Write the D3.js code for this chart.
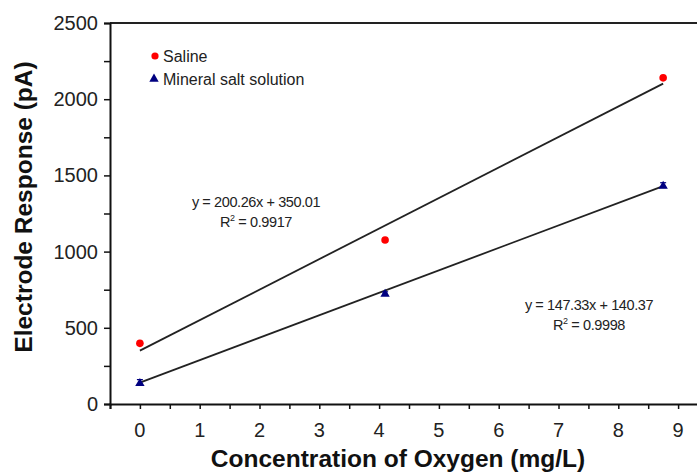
<!DOCTYPE html>
<html>
<head>
<meta charset="utf-8">
<script src="https://cdn.jsdelivr.net/npm/d3@7"></script>
<style>
  body { margin: 0; background: #fff; }
  text { font-family: "Liberation Sans", Arial, sans-serif; }
</style>
</head>
<body>
<div id="viz"></div>
<script>
// data
const oxygen = [0, 4.1, 8.75];
const saline = [398, 1076, 2140];
const mineral = [142, 728, 1436];
const mineralErr = [18, 8, 16];
const xTicks = [0, 1, 2, 3, 4, 5, 6, 7, 8, 9];
const yTicks = [0, 500, 1000, 1500, 2000, 2500];
const fits = [
  { name: "Saline", slope: 200.26, icpt: 350.01, eq: "y = 200.26x + 350.01", r2: "0.9917" },
  { name: "Mineral salt solution", slope: 147.33, icpt: 140.37, eq: "y = 147.33x + 140.37", r2: "0.9998" }
];

const width = 697;
const height = 474;

const svg = d3.select("#viz")
  .append("svg")
  .attr("width", width)
  .attr("height", height);

const x = d3.scaleLinear().domain([-0.5, 9.5]).range([110, 708]);
const y = d3.scaleLinear().domain([0, 2500]).range([404, 23]);

// frame top line
svg.append("line")
  .attr("x1", x(-0.5)).attr("x2", width)
  .attr("y1", y(2500)).attr("y2", y(2500))
  .attr("stroke", "#222").attr("stroke-width", 2);

// x axis (major ticks + half ticks)
const xAxis = svg.append("g")
  .attr("transform", `translate(0,${y(0)})`)
  .call(d3.axisBottom(x).tickValues(d3.range(-0.5, 9.51, 0.5)).tickSize(5).tickFormat(""));
xAxis.select(".domain").attr("stroke", "#111").attr("stroke-width", 2);
xAxis.selectAll(".tick line").attr("stroke", "#111").attr("stroke-width", 1.5);

svg.append("g").selectAll("text")
  .data(xTicks)
  .join("text")
  .attr("x", d => x(d))
  .attr("y", 437)
  .attr("text-anchor", "middle")
  .attr("font-size", 20)
  .attr("fill", "#222")
  .text(d => d);

// y axis
const yAxis = svg.append("g")
  .attr("transform", `translate(${x(-0.5)},0)`)
  .call(d3.axisLeft(y).tickValues(d3.range(0, 2501, 250)).tickSize(6).tickFormat(""));
yAxis.select(".domain").attr("stroke", "#111").attr("stroke-width", 2);
yAxis.selectAll(".tick line").attr("stroke", "#111").attr("stroke-width", 1.5);

svg.append("g").selectAll("text")
  .data(yTicks)
  .join("text")
  .attr("x", 98)
  .attr("y", d => y(d) + 7)
  .attr("text-anchor", "end")
  .attr("font-size", 20)
  .attr("fill", "#222")
  .text(d => d);

// axis titles
svg.append("text")
  .attr("x", 398)
  .attr("y", 467)
  .attr("text-anchor", "middle")
  .attr("font-size", 24.5)
  .attr("font-weight", "bold")
  .attr("fill", "#111")
  .text("Concentration of Oxygen (mg/L)");

svg.append("text")
  .attr("transform", "translate(32,207) rotate(-90)")
  .attr("text-anchor", "middle")
  .attr("font-size", 24.5)
  .attr("font-weight", "bold")
  .attr("fill", "#111")
  .text("Electrode Response (pA)");

// fit lines
svg.append("g").selectAll("line")
  .data(fits)
  .join("line")
  .attr("x1", x(0)).attr("x2", x(oxygen[oxygen.length - 1]))
  .attr("y1", d => y(d.icpt))
  .attr("y2", d => y(d.slope * oxygen[oxygen.length - 1] + d.icpt))
  .attr("stroke", "#222")
  .attr("stroke-width", 1.8);

// mineral error bars
const eb = svg.append("g").attr("stroke", "#000080").attr("stroke-width", 1.2);
oxygen.forEach((o, i) => {
  eb.append("line").attr("x1", x(o)).attr("x2", x(o))
    .attr("y1", y(mineral[i] - mineralErr[i])).attr("y2", y(mineral[i] + mineralErr[i]));
  [-1, 1].forEach(s => {
    eb.append("line").attr("x1", x(o) - 3).attr("x2", x(o) + 3)
      .attr("y1", y(mineral[i] + s * mineralErr[i])).attr("y2", y(mineral[i] + s * mineralErr[i]));
  });
});

const tri = d3.symbol().type(d3.symbolTriangle).size(38);

svg.append("g").selectAll("circle")
  .data(oxygen)
  .join("circle")
  .attr("cx", d => x(d))
  .attr("cy", (d, i) => y(saline[i]))
  .attr("r", 3.8)
  .attr("fill", "#ff0000");

svg.append("g").selectAll("path")
  .data(oxygen)
  .join("path")
  .attr("d", tri)
  .attr("transform", (d, i) => `translate(${x(d)},${y(mineral[i]) + 1})`)
  .attr("fill", "#000080");

// legend
svg.append("circle").attr("cx", 155).attr("cy", 56).attr("r", 3.6).attr("fill", "#ff0000");
svg.append("path").attr("d", tri).attr("transform", "translate(154,79)").attr("fill", "#000080");
svg.append("text").attr("x", 163).attr("y", 62).attr("font-size", 16).attr("fill", "#222").text(fits[0].name);
svg.append("text").attr("x", 163).attr("y", 85).attr("font-size", 16).attr("fill", "#222").text(fits[1].name);

// equations
const eqPos = [[256, 207], [589, 310]];
fits.forEach((f, i) => {
  const g = svg.append("g").attr("font-size", 14.5).attr("fill", "#222").attr("text-anchor", "middle");
  g.append("text").attr("x", eqPos[i][0]).attr("y", eqPos[i][1]).attr("letter-spacing", -0.4).text(f.eq);
  const t = g.append("text").attr("x", eqPos[i][0]).attr("y", eqPos[i][1] + 20).attr("letter-spacing", -0.4);
  t.append("tspan").text("R");
  t.append("tspan").attr("dy", -6).attr("font-size", 9).text("2");
  t.append("tspan").attr("dy", 6).text(" = " + f.r2);
});
</script>
</body>
</html>
